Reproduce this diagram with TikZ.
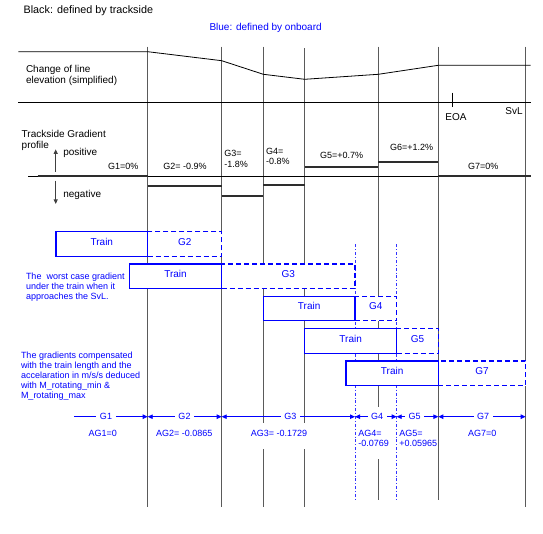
\documentclass[tikz,border=0pt]{standalone}
\usepackage{fontspec}
\setmainfont{Liberation Sans}
\usetikzlibrary{arrows.meta}
\definecolor{vline}{RGB}{90,90,90}
\definecolor{obblue}{RGB}{0,0,255}
\definecolor{gline}{RGB}{45,45,45}
\tikzset{
  big/.style={inner sep=0pt, outer sep=0pt, font=\fontsize{10}{11.3}\selectfont},
  small/.style={inner sep=0pt, outer sep=0pt, font=\fontsize{9}{10}\selectfont},
  bluesmall/.style={small, text=obblue},
  vln/.style={draw=vline, line width=1pt},
  hln/.style={draw=black, line width=0.8pt},
  grad/.style={draw=gline, line width=2pt},
  boxbase/.style={anchor=north west, inner sep=0pt, outer sep=0pt, line width=1.2pt,
    fill=white, draw=obblue, text=obblue, font=\fontsize{10}{11}\selectfont,
    minimum height=24.6pt, text height=7pt, text depth=4.4pt},
  trainbox/.style={boxbase},
  gbox/.style={boxbase, dash pattern=on 5pt off 3pt},
  dashdot/.style={draw=obblue!80, line width=0.5pt, dash pattern=on 3pt off 2pt on 0.8pt off 2pt},
  dim/.style={draw=obblue, line width=0.9pt},
  tip/.tip={Triangle[length=5pt,width=4.5pt]},
  dimlabel/.style={small, text=obblue, fill=white, inner xsep=3.5pt, inner ysep=1pt},
  updown/.style={draw=black!75, line width=1pt, -{Triangle[length=4.5pt,width=4pt]}}
}
\begin{document}
\begin{tikzpicture}[x=1pt,y=-1pt]
\useasboundingbox (0,0) rectangle (543,534);

% header texts
\node[big, anchor=west, font=\fontsize{10.8}{12}\selectfont] (hblack) at (23.6,10.7) {Black: defined by trackside};
\node[big, anchor=center, text=obblue] (hblue) at (265.6,28) {Blue: defined by onboard};

% vertical section lines
\draw[vln] (147.7,46.7) -- (147.7,506.7);
\draw[vln] (221.7,46.7) -- (221.7,506.7);
\draw[vln] (263.3,46.7) -- (263.3,423.3) (263.3,449.3) -- (263.3,506.7);
\draw[vln] (304.7,48.3) -- (304.7,423.3) (304.7,449.3) -- (304.7,506.7);
\draw[vln] (378.3,46.7) -- (378.3,407) (378.3,459.3) -- (378.3,500);
\draw[vln] (438.3,46.7) -- (438.3,500);
\draw[vln] (525.7,46.7) -- (525.7,506.7);

% elevation
\draw[hln] (18.3,51.7) -- (147.7,51.7) -- (221.7,60.7) -- (263.3,74.3) -- (304.7,79.3)
  -- (378.3,74.3) -- (438.3,65.3) -- (530.7,65.3);
\draw[hln] (18.3,102.3) -- (530.7,102.3);
\node[big, anchor=west, align=left] (elev) at (26,75.7) {Change of line\\elevation (simplified)};
\draw[hln] (452,92.7) -- (452,106.7);
\node[big] (eoa) at (456,117.3) {EOA};
\node[big] (svl) at (514,111.3) {SvL};

% gradient profile
\node[big, anchor=west, align=left] (tgp) at (21.7,140.5) {Trackside Gradient\\profile};
\coordinate (pbot) at (55.7,171.7);
\coordinate (ptop) at (55.7,149.3);
\coordinate (ntop) at (55.7,180.7);
\coordinate (nbot) at (55.7,204);
\draw[updown] (pbot) -- (ptop);
\draw[updown] (ntop) -- (nbot);
\node[big, anchor=west] (pos) at (63.3,153.3) {positive};
\node[big, anchor=west] (neg) at (63.3,195) {negative};
\draw[hln] (28.3,176.3) -- (530.7,176.3);
\draw[grad] (37.7,176.3) -- (147.7,176.3);
\draw[grad] (147.7,186.3) -- (221.7,186.3);
\draw[grad] (221.7,196) -- (263.3,196);
\draw[grad] (263.3,185.3) -- (304.7,185.3);
\draw[grad] (304.7,167) -- (378.3,167);
\draw[grad] (378.3,162.3) -- (438.3,162.3);
\draw[grad] (438.3,176.3) -- (530.7,176.3);
\node[small] (g1) at (123.3,166) {G1=0\%};
\node[small] (g2) at (185,166) {G2= -0.9\%};
\node[small, anchor=west, align=left, font=\fontsize{9}{10.7}\selectfont] (g3) at (224.3,158.7) {G3=\\-1.8\%};
\node[small, anchor=west, align=left, font=\fontsize{9}{10.7}\selectfont] (g4) at (266,156.3) {G4=\\-0.8\%};
\node[small] (g5) at (341.7,155.7) {G5=+0.7\%};
\node[small] (g6) at (411.7,147.3) {G6=+1.2\%};
\node[small] (g7) at (483.3,166) {G7=0\%};

% dash-dot markers
\draw[dashdot] (355,244.3) -- (355,500);
\draw[dashdot] (396.7,244.3) -- (396.7,500);

% train positions
\node[gbox, minimum width=74pt] (b1) at (147.7,231.7) {G2};
\node[trainbox, minimum width=91.7pt] (t1) at (56,231.7) {Train};
\node[gbox, minimum width=133.3pt] (b2) at (221.7,264) {G3};
\node[trainbox, minimum width=92.4pt] (t2) at (129.3,264) {Train};
\node[gbox, minimum width=41.7pt] (b3) at (355,296.3) {G4};
\node[trainbox, minimum width=91.7pt] (t3) at (263.3,296.3) {Train};
\node[gbox, minimum width=41.6pt] (b4) at (396.7,328.7) {G5};
\node[trainbox, minimum width=92pt] (t4) at (304.7,328.7) {Train};
\node[gbox, minimum width=87.4pt] (b5) at (438.3,361) {G7};
\node[trainbox, minimum width=92.3pt] (t5) at (346,361) {Train};

% blue notes
\node[bluesmall, anchor=west, align=left, font=\fontsize{9}{9.9}\selectfont] (note1) at (26,287.2)
  {The\ \ worst case gradient\\under the train when it\\approaches the SvL.};
\node[bluesmall, anchor=west, align=left] (note2) at (21,375.7)
  {The gradients compensated\\with the train length and the\\accelaration in m/s/s deduced\\with M\_rotating\_min \&\\M\_rotating\_max};

% dimension arrows
\coordinate (d0) at (74,416.7);
\coordinate (d1) at (147.7,416.7);
\coordinate (d2) at (221.7,416.7);
\coordinate (d3) at (355,416.7);
\coordinate (d4) at (396.7,416.7);
\coordinate (d5) at (438.3,416.7);
\coordinate (d6) at (525.7,416.7);
\draw[dim, -{tip}] (d0) -- (d1);
\draw[dim, {tip}-{tip}] (d1) -- (d2);
\draw[dim, {tip}-{tip}] (d2) -- (d3);
\draw[dim, {tip}-{tip}] (d3) -- (d4);
\draw[dim, {tip}-{tip}] (d4) -- (d5);
\draw[dim, {tip}-{tip}] (d5) -- (d6);
\node[dimlabel] (l1) at (106,416.7) {G1};
\node[dimlabel] (l2) at (184.5,416.7) {G2};
\node[dimlabel] (l3) at (290.3,416.7) {G3};
\node[dimlabel] (l4) at (377,416.7) {G4};
\node[dimlabel] (l5) at (414.7,416.7) {G5};
\node[dimlabel] (l7) at (483,416.7) {G7};

% compensated gradients
\node[bluesmall] (ag1) at (102.7,433.3) {AG1=0};
\node[bluesmall] (ag2) at (184.3,433.3) {AG2= -0.0865};
\node[bluesmall] (ag3) at (278.9,433.3) {AG3= -0.1729};
\node[bluesmall, anchor=west, align=left] (ag4) at (358.3,438.3) {AG4=\\-0.0769};
\node[bluesmall, anchor=west, align=left] (ag5) at (399.3,438.3) {AG5=\\+0.05965};
\node[bluesmall] (ag7) at (482.3,433.3) {AG7=0};
\end{tikzpicture}
\end{document}
